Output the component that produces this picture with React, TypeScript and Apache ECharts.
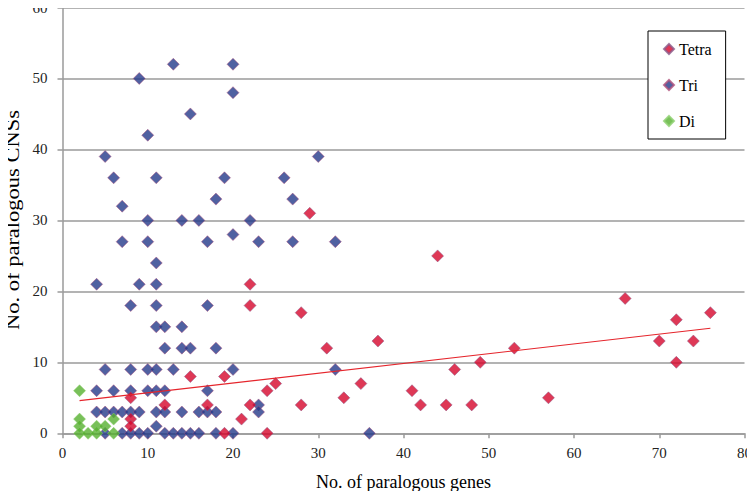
import React, { useEffect, useRef } from "react";
import * as echarts from "echarts";

const tetraPoints: [number, number][] = [
  [29, 31], [44, 25], [22, 21], [22, 18], [28, 17], [66, 19], [72, 16], [76, 17],
  [70, 13], [74, 13], [72, 10], [37, 13], [31, 12], [53, 12], [49, 10], [46, 9],
  [15, 8], [19, 8], [35, 7], [25, 7], [24, 6], [41, 6], [8, 5], [33, 5], [57, 5],
  [12, 4], [17, 4], [22, 4], [28, 4], [42, 4], [45, 4], [48, 4], [8, 2], [21, 2],
  [8, 1], [19, 0], [24, 0],
];

const triPoints: [number, number][] = [
  [13, 52], [20, 52], [9, 50], [20, 48], [15, 45], [10, 42], [5, 39], [30, 39],
  [6, 36], [11, 36], [19, 36], [26, 36], [18, 33], [27, 33], [7, 32], [10, 30],
  [14, 30], [16, 30], [22, 30], [20, 28], [7, 27], [10, 27], [17, 27], [23, 27],
  [27, 27], [32, 27], [11, 24], [4, 21], [9, 21], [11, 21], [8, 18], [11, 18],
  [17, 18], [11, 15], [12, 15], [14, 15], [12, 12], [14, 12], [15, 12], [18, 12],
  [5, 9], [8, 9], [10, 9], [11, 9], [13, 9], [20, 9], [32, 9], [4, 6], [6, 6],
  [8, 6], [10, 6], [11, 6], [12, 6], [17, 6], [23, 4], [4, 3], [5, 3], [6, 3],
  [7, 3], [8, 3], [9, 3], [11, 3], [12, 3], [14, 3], [16, 3], [17, 3], [18, 3],
  [23, 3], [11, 1], [5, 0], [7, 0], [8, 0], [9, 0], [10, 0], [12, 0], [13, 0],
  [14, 0], [15, 0], [16, 0], [18, 0], [20, 0], [36, 0],
];

const diPoints: [number, number][] = [
  [2, 6], [2, 2], [2, 1], [2, 0], [3, 0], [4, 0], [4, 1], [5, 1], [6, 2], [6, 0],
];

const trendLine: [number, number][] = [
  [2, 4.6],
  [76, 14.8],
];

const legendNames = ["Tetra", "Tri", "Di"];
const xTitle = "No. of paralogous genes";
const yTitle = "No. of paralogous CNSs";

const SERIF = "Liberation Serif";
const GRAY = "#9a9a9a";

export default function App() {
  const ref = useRef<HTMLDivElement>(null);

  useEffect(() => {
    if (!ref.current) return;
    const chart = echarts.init(ref.current, null, { renderer: "svg" });
    chart.setOption({
      animation: false,
      backgroundColor: "#ffffff",
      grid: { left: 62.5, right: 9.5, top: 7.3, bottom: 65.7 },
      legend: {
        data: legendNames,
        orient: "vertical",
        left: 648,
        top: 31,
        padding: [10, 14, 10, 15],
        itemGap: 20,
        itemWidth: 10,
        itemHeight: 10,
        icon: "diamond",
        borderColor: "#000000",
        borderWidth: 1,
        backgroundColor: "#ffffff",
        textStyle: { fontFamily: SERIF, fontSize: 16, color: "#000000" },
      },
      graphic: [
        {
          type: "text",
          x: 13,
          y: 220,
          rotation: Math.PI / 2,
          scaleX: 1.25,
          style: {
            text: yTitle,
            font: "18px 'Liberation Serif'",
            fill: "#000000",
            align: "center",
            verticalAlign: "middle",
          },
        },
      ],
      xAxis: {
        type: "value",
        min: 0,
        max: 80,
        interval: 10,
        name: xTitle,
        nameLocation: "middle",
        nameGap: 40,
        nameTextStyle: { fontFamily: SERIF, fontSize: 18, color: "#000000" },
        axisLine: { show: true, lineStyle: { color: GRAY, width: 1.5 } },
        axisTick: { show: true, length: 5, lineStyle: { color: GRAY, width: 1.5 } },
        axisLabel: { fontFamily: SERIF, fontSize: 15, color: "#222222", margin: 12 },
        splitLine: { show: false },
      },
      yAxis: {
        type: "value",
        min: 0,
        max: 60,
        interval: 10,
        axisLine: { show: true, lineStyle: { color: GRAY, width: 1.5 } },
        axisTick: { show: true, length: 5, lineStyle: { color: GRAY, width: 1.5 } },
        axisLabel: { fontFamily: SERIF, fontSize: 15, color: "#222222", margin: 15 },
        splitLine: { show: true, lineStyle: { color: GRAY, width: 1.5 } },
      },
      series: [
        {
          name: "Tri",
          type: "scatter",
          symbol: "diamond",
          symbolSize: 12,
          data: triPoints,
          itemStyle: { color: "#243a8a", borderColor: "#b0507a", borderWidth: 0.6 },
          z: 2,
        },
        {
          name: "Tetra",
          type: "scatter",
          symbol: "diamond",
          symbolSize: 12,
          data: tetraPoints,
          itemStyle: { color: "#d6062c", borderColor: "#8a5a8a", borderWidth: 0.6 },
          z: 3,
        },
        {
          name: "Di",
          type: "scatter",
          symbol: "diamond",
          symbolSize: 12,
          data: diPoints,
          itemStyle: { color: "#56b02f", borderColor: "#8fcf70", borderWidth: 0.6 },
          z: 4,
        },
        {
          name: "trend",
          type: "line",
          data: trendLine,
          showSymbol: false,
          symbol: "none",
          lineStyle: { color: "#e5252c", width: 1.2 },
          z: 5,
          silent: true,
        },
      ],
    });
    return () => chart.dispose();
  }, []);

  return <div ref={ref} style={{ width: 755, height: 499, margin: -8 }} />;
}
